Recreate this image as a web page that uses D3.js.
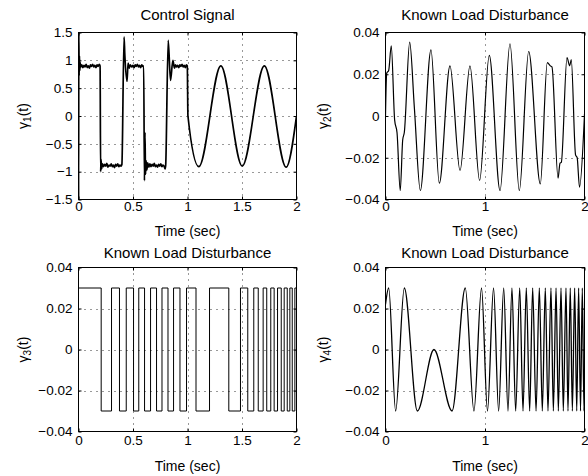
<!DOCTYPE html>
<html lang="en">
<head>
<meta charset="UTF-8">
<title>Control Signal and Known Load Disturbances</title>
<script src="https://cdn.jsdelivr.net/npm/d3@7/dist/d3.min.js"></script>
<style>
  body { margin: 0; background: #fff; }
  svg { display: block; font-family: "Liberation Sans", Arial, Helvetica, sans-serif; }
  .tick text { font-family: "Liberation Sans", Arial, Helvetica, sans-serif; font-size: 13.5px; fill: #000; }
  .tick line { stroke: #000; }
</style>
</head>
<body>
<script>
  // tick values
  const timeTicksFine = [0, 0.5, 1, 1.5, 2];
  const timeTicksCoarse = [0, 1, 2];
  const ctrlTicks = [-1.5, -1, -0.5, 0, 0.5, 1, 1.5];
  const loadTicks = [-0.04, -0.02, 0, 0.02, 0.04];

  const titles = ["Control Signal", "Known Load Disturbance", "Known Load Disturbance", "Known Load Disturbance"];
  const subscripts = ["1", "2", "3", "4"];

  // gamma_1(t) : [time, value]
  const ctrlSignal = [
    [0, 0], [0.001, -1.5], [0.003, 1.5], [0.006, 0.72], [0.009, 1.08], [0.012, 0.82], [0.016, 0.96], [0.02, 0.88],
    [0.03, 0.92], [0.04, 0.87], [0.05, 0.91], [0.06, 0.88], [0.07, 0.93], [0.08, 0.87], [0.09, 0.9], [0.1, 0.86],
    [0.11, 0.92], [0.12, 0.89], [0.13, 0.93], [0.14, 0.88], [0.15, 0.91], [0.16, 0.87], [0.17, 0.92], [0.18, 0.89],
    [0.19, 0.93], [0.198, 0.9],
    [0.203, -1.0], [0.207, -0.78], [0.212, -0.95], [0.22, -0.86], [0.23, -0.91], [0.24, -0.87], [0.25, -0.9],
    [0.26, -0.85], [0.27, -0.92], [0.28, -0.88], [0.29, -0.9], [0.3, -0.86], [0.31, -0.91], [0.32, -0.88],
    [0.33, -0.93], [0.34, -0.87], [0.35, -0.9], [0.36, -0.86], [0.37, -0.91], [0.38, -0.88], [0.39, -0.9], [0.398, -0.87],
    [0.418, 1.42], [0.425, 1.1], [0.445, 0.62], [0.455, 0.95], [0.465, 0.86], [0.475, 0.92], [0.49, 0.88], [0.5, 0.91],
    [0.51, 0.87], [0.52, 0.92], [0.53, 0.89], [0.54, 0.93], [0.55, 0.88], [0.56, 0.91], [0.57, 0.87], [0.58, 0.92],
    [0.59, 0.89], [0.598, 0.9],
    [0.605, -1.16], [0.61, -0.3], [0.615, -1.05], [0.62, -0.8], [0.627, -0.97], [0.635, -0.84], [0.645, -0.92],
    [0.655, -0.86], [0.665, -0.91], [0.675, -0.87], [0.685, -0.9], [0.695, -0.85], [0.705, -0.91], [0.715, -0.88],
    [0.725, -0.92], [0.735, -0.87], [0.745, -0.9], [0.755, -0.86], [0.765, -0.91], [0.775, -0.88], [0.785, -0.9],
    [0.795, -0.95], [0.8, -0.88],
    [0.823, 1.36], [0.844, 0.64], [0.866, 1.0], [0.88, 0.86], [0.89, 0.92], [0.9, 0.88], [0.91, 0.91], [0.92, 0.87],
    [0.93, 0.92], [0.94, 0.89], [0.95, 0.93], [0.96, 0.88], [0.97, 0.91], [0.98, 0.87], [0.99, 0.92], [0.998, 0.9],
    [1.004, 0.0], [1.104, -0.91], [1.306, 0.9], [1.502, -0.9], [1.705, 0.9], [1.905, -0.92], [2.0, 0.0]
  ];

  // gamma_2(t)
  const loadSignal2 = [
    [0, 0], [0.012, 0.0205], [0.032, 0.0218], [0.058, 0.0336], [0.092, -0.002], [0.116, -0.008], [0.148, -0.0357],
    [0.173, -0.0114], [0.189, -0.0079], [0.243, 0.0354], [0.29, 0.004], [0.35, -0.0357], [0.457, 0.0317],
    [0.541, -0.0322], [0.648, 0.024], [0.749, -0.0261], [0.849, 0.024], [0.946, -0.0309], [1.043, 0.029],
    [1.151, -0.0357], [1.251, 0.0346], [1.345, -0.0357], [1.439, 0.0309], [1.556, -0.0325], [1.626, 0.0256],
    [1.657, 0.024], [1.673, 0.0235], [1.734, -0.0298], [1.754, -0.0226], [1.767, -0.0222], [1.824, 0.028],
    [1.851, 0.024], [1.867, 0.027], [1.91, -0.0186], [1.926, -0.0199], [1.95, -0.0341], [2, 0.001]
  ];

  // gamma_3(t), square wave switching points
  const loadSignal3 = [
    [0, 0.03], [0.208, -0.03], [0.303, 0.03], [0.376, -0.03], [0.438, 0.03], [0.505, -0.03], [0.553, 0.03],
    [0.606, -0.03], [0.661, 0.03], [0.716, -0.03], [0.766, 0.03], [0.821, -0.03], [0.872, 0.03], [0.931, -0.03],
    [0.991, 0.03], [1.078, -0.03], [1.202, 0.03], [1.379, -0.03], [1.486, 0.03], [1.553, -0.03], [1.608, 0.03],
    [1.649, -0.03], [1.694, 0.03], [1.727, -0.03], [1.764, 0.03], [1.795, -0.03], [1.826, 0.03], [1.86, -0.03],
    [1.887, 0.03], [1.915, -0.03], [1.939, 0.03], [1.961, -0.03], [1.985, 0.03], [2, 0.03]
  ];

  // gamma_4(t), peaks and troughs
  const loadSignal4 = [
    [0, 0.022], [0.032, 0.03], [0.102, -0.03], [0.189, 0.03], [0.32, -0.03], [0.487, 0.0], [0.669, -0.03],
    [0.802, 0.03], [0.889, -0.03], [0.965, 0.03], [1.025, -0.03], [1.086, 0.03], [1.137, -0.03], [1.188, 0.03],
    [1.231, -0.03], [1.271, 0.03], [1.308, -0.03], [1.349, 0.03], [1.382, -0.03], [1.415, 0.03], [1.449, -0.03],
    [1.479, 0.03], [1.513, -0.03], [1.546, 0.03], [1.576, -0.03], [1.606, 0.03], [1.633, -0.03], [1.663, 0.03],
    [1.687, -0.03], [1.714, 0.03], [1.737, -0.03], [1.764, 0.03], [1.787, -0.03], [1.814, 0.03], [1.834, -0.03],
    [1.857, 0.03], [1.878, -0.03], [1.901, 0.03], [1.922, -0.03], [1.941, 0.03], [1.96, -0.03], [1.978, 0.03],
    [1.995, -0.03], [2, -0.01]
  ];

  const svg = d3.select("body").append("svg")
    .attr("width", 588)
    .attr("height", 476);

  // rows and columns of the 2x2 layout
  const rows = [
    { top: 32.5, bottom: 199.5, titleY: 20, tickPad: 2, labelY: 236 },
    { top: 267.5, bottom: 431.5, titleY: 257.5, tickPad: 4, labelY: 471 }
  ];
  const cols = [
    { left: 78.5, right: 296.5, ylabX: 28 },
    { left: 385.5, right: 584.5, ylabX: 328 }
  ];

  const panels = [
    { data: ctrlSignal, yDomain: [-1.5, 1.5], yTicks: ctrlTicks, xTicks: timeTicksFine, row: 0, col: 0, curve: d3.curveMonotoneX, lw: 1.7 },
    { data: loadSignal2, yDomain: [-0.04, 0.04], yTicks: loadTicks, xTicks: timeTicksCoarse, row: 0, col: 1, curve: d3.curveMonotoneX, lw: 1.2 },
    { data: loadSignal3, yDomain: [-0.04, 0.04], yTicks: loadTicks, xTicks: timeTicksFine, row: 1, col: 0, curve: d3.curveStepAfter, lw: 1 },
    { data: loadSignal4, yDomain: [-0.04, 0.04], yTicks: loadTicks, xTicks: timeTicksCoarse, row: 1, col: 1, curve: d3.curveMonotoneX, lw: 1.3 }
  ];

  const fmt = d3.format("~g");

  panels.forEach((p, i) => {
    const r = rows[p.row], c = cols[p.col];
    const x = d3.scaleLinear().domain([0, 2]).range([c.left, c.right]);
    const y = d3.scaleLinear().domain(p.yDomain).range([r.bottom, r.top]);
    const g = svg.append("g");

    // dotted grid at inner ticks
    g.append("g").selectAll("line").data(p.xTicks.slice(1, -1)).join("line")
      .attr("x1", d => Math.round(x(d)) + 0.5).attr("x2", d => Math.round(x(d)) + 0.5)
      .attr("y1", r.top).attr("y2", r.bottom)
      .attr("stroke", "#333").attr("stroke-dasharray", "1,5");
    g.append("g").selectAll("line").data(p.yTicks.slice(1, -1)).join("line")
      .attr("y1", d => Math.round(y(d)) + 0.5).attr("y2", d => Math.round(y(d)) + 0.5)
      .attr("x1", c.left).attr("x2", c.right)
      .attr("stroke", "#333").attr("stroke-dasharray", "1,5");

    // signal
    const clipId = "clip" + i;
    svg.append("clipPath").attr("id", clipId)
      .append("rect").attr("x", c.left).attr("y", r.top)
      .attr("width", c.right - c.left).attr("height", r.bottom - r.top);
    const line = d3.line().x(d => x(d[0])).y(d => y(d[1])).curve(p.curve);
    g.append("path")
      .attr("clip-path", `url(#${clipId})`)
      .attr("d", line(p.data))
      .attr("fill", "none")
      .attr("stroke", "#000")
      .attr("stroke-width", p.lw)
      .attr("stroke-linejoin", "round");

    // axes with inward ticks on all four sides
    g.append("g").attr("transform", `translate(0,${r.bottom})`)
      .call(d3.axisBottom(x).tickValues(p.xTicks).tickFormat(fmt).tickSizeInner(-3).tickSizeOuter(0).tickPadding(r.tickPad))
      .call(a => a.select(".domain").remove());
    g.append("g").attr("transform", `translate(0,${r.top})`)
      .call(d3.axisTop(x).tickValues(p.xTicks).tickFormat("").tickSizeInner(-3).tickSizeOuter(0))
      .call(a => a.select(".domain").remove());
    g.append("g").attr("transform", `translate(${c.left},0)`)
      .call(d3.axisLeft(y).tickValues(p.yTicks).tickFormat(fmt).tickSizeInner(-3).tickSizeOuter(0).tickPadding(6))
      .call(a => a.select(".domain").remove());
    g.append("g").attr("transform", `translate(${c.right},0)`)
      .call(d3.axisRight(y).tickValues(p.yTicks).tickFormat("").tickSizeInner(-3).tickSizeOuter(0))
      .call(a => a.select(".domain").remove());

    // box
    g.append("rect")
      .attr("x", c.left).attr("y", r.top)
      .attr("width", c.right - c.left).attr("height", r.bottom - r.top)
      .attr("fill", "none").attr("stroke", "#000");

    // title
    g.append("text")
      .attr("x", (c.left + c.right) / 2).attr("y", r.titleY)
      .attr("text-anchor", "middle").attr("font-size", 15)
      .text(titles[i]);

    // x label
    g.append("text")
      .attr("x", (c.left + c.right) / 2).attr("y", r.labelY)
      .attr("text-anchor", "middle").attr("font-size", 14)
      .text("Time (sec)");

    // y label
    const yl = g.append("text")
      .attr("transform", `translate(${c.ylabX},${(r.top + r.bottom) / 2}) rotate(-90)`)
      .attr("text-anchor", "middle").attr("font-size", 14);
    yl.append("tspan").text("γ");
    yl.append("tspan").attr("font-size", 10).attr("dy", 3).text(subscripts[i]);
    yl.append("tspan").attr("dy", -3).text("(t)");
  });
</script>
</body>
</html>
